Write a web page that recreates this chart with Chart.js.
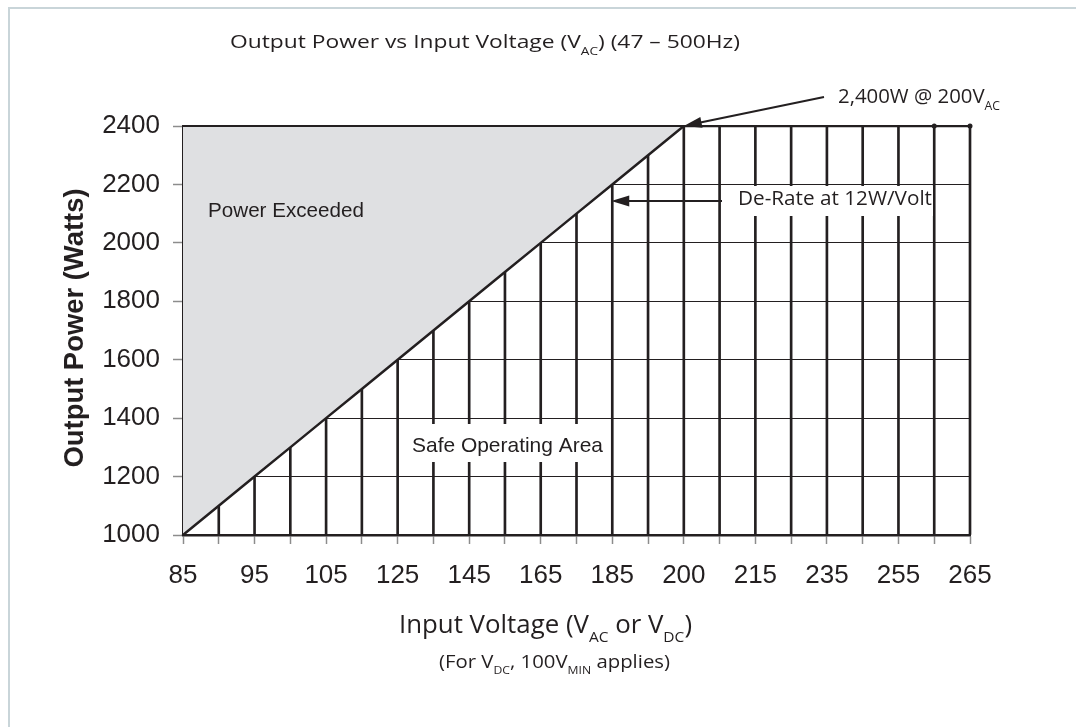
<!DOCTYPE html>
<html>
<head>
<meta charset="utf-8">
<script src="https://cdn.jsdelivr.net/npm/chart.js@4.4.1/dist/chart.umd.min.js"></script>
<style>
  html, body { margin: 0; padding: 0; background: #fff; }
  #wrap { position: relative; width: 1076px; height: 727px; }
</style>
</head>
<body>
<div id="wrap"><canvas id="derating" width="1076" height="727"></canvas></div>
<script>
// Datos
const voltageTicks = ['85', '95', '105', '125', '145', '165', '185', '200', '215', '235', '255', '265'];
// potencia máxima en cada línea vertical (una por media división)
const powerLimit = [1000, 1100, 1200, 1300, 1400, 1500, 1600, 1700, 1800, 1900, 2000, 2100, 2200, 2300,
                    2400, 2400, 2400, 2400, 2400, 2400, 2400, 2400, 2400];
const ratedPower = [2400, 2400, 2400, 2400, 2400, 2400, 2400, 2400, 2400, 2400, 2400, 2400, 2400, 2400,
                    2400, 2400, 2400, 2400, 2400, 2400, 2400, 2400, 2400];
const powerTicks = [1000, 1200, 1400, 1600, 1800, 2000, 2200, 2400];

// etiquetas del eje x con huecos entre divisiones
const xLabels = [];
voltageTicks.forEach((t, i) => {
  xLabels.push(t);
  if (i < voltageTicks.length - 1) xLabels.push('');
});

const ink = '#231f20';
const sansA = '"Liberation Sans", Arial, sans-serif';
const sansB = '"Open Sans", "Noto Sans", sans-serif';

// texto con subíndices, ajustado a un ancho
function richText(ctx, parts, x, y, size, family, width, align, weight) {
  ctx.save();
  ctx.fillStyle = ink;
  ctx.textBaseline = 'alphabetic';
  const fonts = parts.map(p => (weight || '') + ' ' + (p[1] ? size * 0.6 : size) + 'px ' + family);
  let natural = 0;
  parts.forEach((p, i) => { ctx.font = fonts[i]; natural += ctx.measureText(p[0]).width; });
  const k = width ? width / natural : 1;
  const x0 = align === 'center' ? x - natural * k / 2 : x;
  ctx.translate(x0, y);
  ctx.scale(k, 1);
  let cx = 0;
  parts.forEach((p, i) => {
    ctx.font = fonts[i];
    ctx.fillText(p[0], cx, p[1] ? size * 0.35 : 0);
    cx += ctx.measureText(p[0]).width;
  });
  ctx.restore();
}

function arrow(ctx, x1, y1, x2, y2, len, half) {
  const a = Math.atan2(y2 - y1, x2 - x1);
  ctx.save();
  ctx.strokeStyle = ink;
  ctx.fillStyle = ink;
  ctx.lineWidth = 2;
  ctx.beginPath();
  ctx.moveTo(x1, y1);
  ctx.lineTo(x2 - Math.cos(a) * len * 0.8, y2 - Math.sin(a) * len * 0.8);
  ctx.stroke();
  ctx.translate(x2, y2);
  ctx.rotate(a);
  ctx.beginPath();
  ctx.moveTo(0, 0);
  ctx.lineTo(-len, -half);
  ctx.lineTo(-len, half);
  ctx.closePath();
  ctx.fill();
  ctx.restore();
}

const annotations = {
  id: 'annotations',
  afterDatasetsDraw(chart) {
    const ctx = chart.ctx;
    const x = chart.scales.x, y = chart.scales.y;

    // cajas blancas detrás de los rótulos
    ctx.save();
    ctx.fillStyle = '#fff';
    ctx.fillRect(730, 186, 203, 30);
    ctx.fillRect(404, 424, 200, 38);
    ctx.restore();

    richText(ctx, [['De-Rate at 12W/Volt']], 738, 205, 20, sansB, 194);
    richText(ctx, [['Safe Operating Area']], 412, 452, 21, sansA, 191);
    richText(ctx, [['Power Exceeded']], 208, 217, 21, sansA, 156);

    arrow(ctx, 722, 201, x.getPixelForValue(12) - 1, 201, 18, 5.5);
    arrow(ctx, 824, 97, x.getPixelForValue(14), y.getPixelForValue(2400), 18, 5.5);
    richText(ctx, [['2,400W @ 200V'], ['AC', 1]], 838, 103, 20, sansB, 162);
  },
  afterDraw(chart) {
    const ctx = chart.ctx;
    // marco
    ctx.save();
    ctx.strokeStyle = '#c9d5d9';
    ctx.lineWidth = 2;
    ctx.beginPath();
    ctx.moveTo(9, 727);
    ctx.lineTo(9, 8);
    ctx.lineTo(1076, 8);
    ctx.stroke();
    ctx.restore();

    richText(ctx, [['Output Power vs Input Voltage (V'], ['AC', 1], [') (47 – 500Hz)']], 230, 48, 19, sansB, 510);
    richText(ctx, [['Input Voltage (V'], ['AC', 1], [' or V'], ['DC', 1], [')']], 399, 633, 25, sansB, 293);
    richText(ctx, [['(For V'], ['DC', 1], [', 100V'], ['MIN', 1], [' applies)']], 439, 668, 18, sansB, 231);

    // título del eje y
    ctx.save();
    ctx.translate(83, 328);
    ctx.rotate(-Math.PI / 2);
    richText(ctx, [['Output Power (Watts)']], 0, 0, 27, sansA, 279, 'center', 'bold');
    ctx.restore();
  }
};

new Chart(document.getElementById('derating'), {
  type: 'bar',
  data: {
    labels: xLabels,
    datasets: [
      {
        type: 'line',
        label: 'Potencia nominal',
        data: ratedPower,
        borderColor: ink,
        borderWidth: 2,
        pointRadius: ctx => (ctx.dataIndex >= 21 ? 2.5 : 0),
        pointBackgroundColor: ink,
        pointBorderWidth: 0,
        clip: false,
        order: 1
      },
      {
        type: 'line',
        label: 'Límite',
        data: powerLimit,
        borderColor: ink,
        borderWidth: 2.5,
        pointRadius: 0,
        fill: 'end',
        backgroundColor: '#dfe0e2',
        order: 2
      },
      {
        type: 'bar',
        label: 'Rejilla',
        data: powerLimit,
        base: 1000,
        backgroundColor: ink,
        barThickness: 2,
        clip: false,
        order: 3
      }
    ]
  },
  options: {
    responsive: false,
    animation: false,
    devicePixelRatio: 1,
    layout: { padding: { top: 126, right: 106, left: 0, bottom: 0 } },
    plugins: {
      legend: { display: false },
      tooltip: { enabled: false },
      title: { display: false }
    },
    scales: {
      x: {
        offset: false,
        grid: { offset: false, drawOnChartArea: false, tickLength: 9, tickColor: '#8c8c8c', tickWidth: 1.5 },
        border: { color: ink, width: 2.5 },
        ticks: { autoSkip: false, maxRotation: 0, padding: 16, color: ink, font: { family: sansA, size: 26 } },
        afterFit: s => { s.height = 192; }
      },
      y: {
        min: 1000,
        max: 2400,
        afterBuildTicks: s => { s.ticks = powerTicks.map(v => ({ value: v })); },
        ticks: { padding: 13, color: ink, font: { family: sansA, size: 26 }, callback: v => String(v) },
        grid: { color: ink, lineWidth: 1, tickLength: 10, tickColor: '#8c8c8c', tickWidth: 1.5 },
        border: { color: ink, width: 2 },
        afterFit: s => { s.width = 183; }
      }
    }
  },
  plugins: [annotations]
});
</script>
</body>
</html>
